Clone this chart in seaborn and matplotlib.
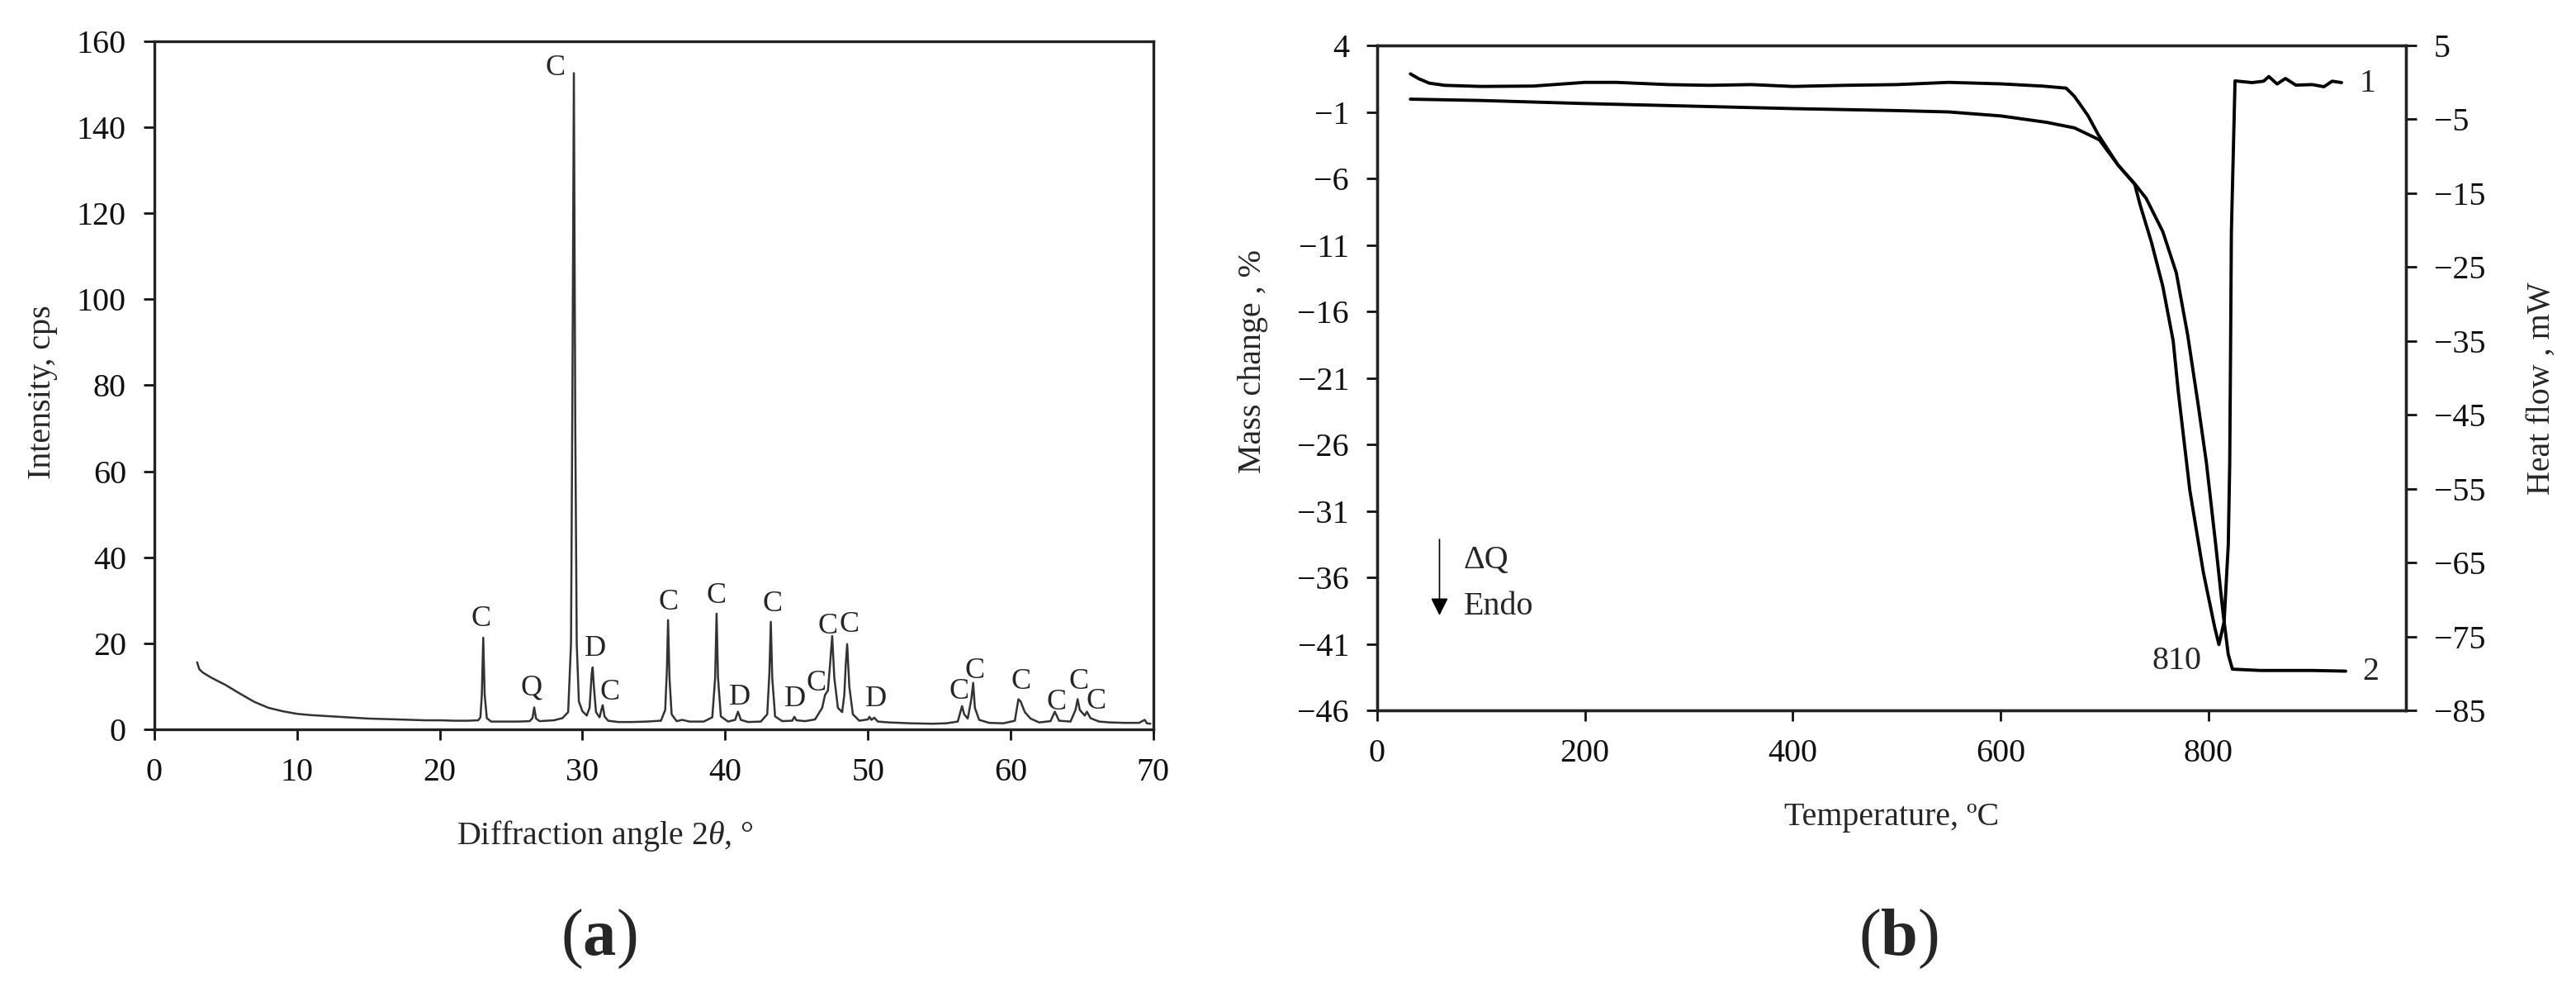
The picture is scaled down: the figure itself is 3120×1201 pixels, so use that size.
import numpy as np
import pandas as pd
import matplotlib
matplotlib.use("Agg")
import matplotlib.pyplot as plt
import seaborn as sns

# (a) XRD pattern
xrd_angle = [3.0, 3.15, 3.4, 4.0, 5.0, 6.0, 7.0, 8.0, 9.0, 10.0, 11.0, 12.0, 13.0, 14.0,
             15.0, 16.0, 17.0, 18.0, 19.0, 20.0, 21.0, 22.0, 22.7,
             22.85, 22.95, 23.05, 23.15, 23.3, 23.6, 24.5, 25.5, 26.3,
             26.5, 26.62, 26.75, 27.0, 28.0, 28.6,
             29.0, 29.2, 29.3, 29.4, 29.5, 29.6, 29.75, 30.0, 30.3,
             30.5, 30.65, 30.72, 30.8, 30.95, 31.2, 31.35, 31.42, 31.55, 31.8,
             32.5, 33.5, 34.5, 35.5, 35.8, 35.92, 36.0, 36.1, 36.25, 36.6, 37.0, 37.5, 38.5,
             39.1, 39.3, 39.4, 39.5, 39.7, 40.2, 40.7, 40.9, 41.1, 41.6, 42.5,
             42.95, 43.1, 43.2, 43.3, 43.5, 44.0, 44.7, 44.85, 45.0, 45.6, 46.3,
             46.8, 47.0, 47.2, 47.35, 47.5, 47.65, 47.9, 48.2, 48.35, 48.45, 48.55, 48.7, 48.95,
             49.4, 50.0, 50.12, 50.25, 50.45, 50.7, 51.5, 53.0, 54.5, 55.5, 56.3,
             56.6, 56.75, 57.0, 57.25, 57.38, 57.5, 57.8, 58.5, 59.5, 60.3,
             60.55, 60.7, 61.0, 61.4, 62.0, 62.8, 63.1, 63.4, 64.2, 64.55, 64.7, 64.85,
             65.2, 65.35, 65.6, 66.2, 67.0, 68.0, 69.0, 69.4, 69.55, 69.8]
xrd_counts = [15.6, 14.0, 13.2, 12.0, 10.3, 8.3, 6.4, 5.0, 4.2, 3.6, 3.3, 3.1, 2.9, 2.7,
              2.5, 2.4, 2.3, 2.2, 2.1, 2.1, 2.0, 2.0, 2.1,
              2.8, 8.0, 21.3, 8.0, 2.6, 1.8, 1.8, 1.8, 1.9,
              2.6, 5.1, 2.5, 1.9, 2.1, 2.6,
              4.0, 20.0, 80.0, 152.6, 70.0, 20.0, 6.5, 4.2, 3.2,
              5.0, 13.0, 14.4, 10.0, 4.0, 2.8, 4.8, 5.6, 3.0, 2.0,
              1.7, 1.7, 1.8, 2.0, 4.5, 14.0, 25.4, 12.0, 3.5, 1.9, 2.2, 1.8, 1.8,
              2.8, 12.0, 26.9, 12.0, 3.0, 1.8, 2.2, 4.1, 2.2, 1.7, 1.8,
              3.5, 13.0, 25.0, 12.0, 3.0, 1.9, 2.0, 2.9, 2.1, 1.9, 2.3,
              5.0, 8.0, 9.0, 15.0, 21.7, 12.0, 5.0, 4.0, 8.0, 15.0, 19.8, 10.0, 3.5,
              2.0, 2.3, 2.9, 2.2, 2.7, 1.8, 1.6, 1.4, 1.3, 1.4, 1.8,
              5.4, 3.5, 2.5, 7.0, 10.8, 5.0, 2.2, 1.5, 1.4, 2.0,
              7.0, 6.5, 4.0, 2.5, 1.6, 1.9, 4.1, 2.0, 1.8, 4.5, 7.0, 4.5,
              3.2, 4.1, 2.6, 1.8, 1.6, 1.5, 1.5, 2.2, 1.4, 1.3]

# phase labels above the peaks: position, height, phase
phase_angle = [22.9, 26.4, 28.1, 30.9, 31.9, 36.0, 39.4, 41.0, 43.3, 44.9, 46.4, 47.2, 48.7,
               50.6, 56.4, 57.5, 60.7, 63.2, 64.8, 66.0]
phase_height = [25.7, 9.6, 153.7, 18.8, 8.5, 29.4, 31.0, 7.4, 29.0, 7.1, 10.7, 24.0, 24.2,
                7.0, 8.7, 13.5, 11.0, 6.3, 11.1, 6.4]
phase_name = ["C", "Q", "C", "D", "C", "C", "C", "D", "C", "D", "C", "C", "C",
              "D", "C", "C", "C", "C", "C", "C"]

# (b) thermal analysis: curve 2 = mass change (TG), curve 1 = heat flow (DSC)
tg_temp = [32, 100, 200, 300, 400, 500, 550, 600, 644, 671, 695, 713, 729, 740, 756,
           769, 780, 790, 798, 807, 814, 819, 823, 850, 900, 932]
tg_mass = [-0.04, -0.14, -0.37, -0.56, -0.75, -0.9, -1.0, -1.3, -1.78, -2.2, -3.1, -5.0,
           -6.4, -7.5, -10.0, -13.1, -17.8, -23.0, -27.4, -33.6, -38.7, -41.8, -42.9,
           -43.0, -43.0, -43.05]
dsc_temp = [32, 40, 50, 65, 100, 150, 200, 230, 280, 320, 360, 400, 450, 500, 550, 600,
            640, 663, 671, 684, 694, 713, 729, 734, 745, 756, 766, 771, 782, 795, 806,
            810, 815, 819, 820.4, 821, 822, 825.5, 842, 853, 858, 866, 874, 884, 900,
            911, 919, 928]
dsc_flow = [1.15, 0.5, -0.1, -0.4, -0.55, -0.5, 0.0, 0.0, -0.3, -0.4, -0.3, -0.55, -0.4,
            -0.3, 0.0, -0.2, -0.5, -0.78, -1.9, -4.5, -7.1, -11.2, -13.8, -16.5, -21.6,
            -27.6, -35.0, -42.0, -55.2, -66.3, -73.8, -76.1, -73.0, -62.6, -51.5, -40.3,
            -20.2, 0.2, -0.03, 0.16, 0.79, -0.22, 0.53, -0.37, -0.3, -0.59, 0.16, -0.03]

xrd = pd.DataFrame({"angle": xrd_angle, "counts": xrd_counts})
tg = pd.DataFrame({"temp": tg_temp, "mass": tg_mass})
dsc = pd.DataFrame({"temp": dsc_temp, "flow": dsc_flow})

sns.set_theme(style="ticks", rc={"axes.linewidth": 1.2, "axes.edgecolor": "#222222"})
plt.rcParams["font.family"] = ["Liberation Serif", "DejaVu Serif"]
plt.rcParams["mathtext.fontset"] = "custom"
plt.rcParams["mathtext.rm"] = "Liberation Serif"
plt.rcParams["mathtext.it"] = "Liberation Serif:italic"
plt.rcParams["mathtext.bf"] = "Liberation Serif:bold"

FS = 14.4
fig = plt.figure(figsize=(15.6, 6.005), dpi=200)
ax1 = fig.add_axes([0.0599, 0.2648, 0.3878, 0.6936])
ax2 = fig.add_axes([0.5346, 0.2839, 0.3994, 0.6703])
ax3 = ax2.twinx()

tick_kw = dict(direction="out", length=4.7, width=1.0, pad=7.5, labelsize=FS, colors="#111111")

# ---- (a) XRD
sns.lineplot(data=xrd, x="angle", y="counts", ax=ax1, color="#333333", linewidth=0.9,
             estimator=None, sort=False)
for a, h, p in zip(phase_angle, phase_height, phase_name):
    ax1.text(a, h, p, ha="center", va="center", fontsize=13)
ax1.set_xlim(0, 70)
ax1.set_ylim(0, 160)
ax1.set_xticks(range(0, 71, 10))
ax1.set_yticks(range(0, 161, 20))
ax1.tick_params(**tick_kw)
ax1.set_xlabel(r"Diffraction angle 2$\mathit{\theta}$, °", fontsize=FS)
ax1.set_ylabel("Intensity, cps", fontsize=FS)
ax1.xaxis.set_label_coords(0.451, -0.155)
ax1.xaxis.label.set_va("center")
ax1.yaxis.set_label_coords(-0.112, 0.49)
ax1.yaxis.label.set_va("center")

# ---- (b) TG / DSC
sns.lineplot(data=tg, x="temp", y="mass", ax=ax2, color="black", linewidth=1.4,
             estimator=None, sort=False)
sns.lineplot(data=dsc, x="temp", y="flow", ax=ax3, color="black", linewidth=1.4,
             estimator=None, sort=False)
ax2.set_xlim(0, 990)
ax2.set_ylim(-46, 4)
ax3.set_ylim(-85, 5)
ax2.set_xticks(range(0, 801, 200))
ax2.set_yticks(range(4, -47, -5))
ax3.set_yticks(range(5, -86, -10))
ax2.tick_params(**tick_kw)
ax3.tick_params(**tick_kw)
ax2.set_xlabel("Temperature, ºC", fontsize=FS)
ax2.set_ylabel("Mass change , %", fontsize=FS)
ax3.set_ylabel("Heat flow , mW", fontsize=FS)
ax2.xaxis.set_label_coords(0.5, -0.161)
ax2.xaxis.label.set_va("center")
ax2.yaxis.set_label_coords(-0.121, 0.525)
ax2.yaxis.label.set_va("center")
ax3.yaxis.set_label_coords(1.132, 0.484)
ax3.yaxis.label.set_va("center")

ax2.text(953, 1.1, "1", ha="center", va="center", fontsize=FS)
ax2.text(956, -43.1, "2", ha="center", va="center", fontsize=FS)
ax2.text(769.5, -42.3, "810", ha="center", va="center", fontsize=FS)
ax2.annotate("", xy=(60, -39.2), xytext=(60, -32.8),
             arrowprops=dict(arrowstyle="-|>", lw=0.6, color="black", mutation_scale=16))
ax2.text(83, -34.7, "ΔQ", ha="left", va="center", fontsize=FS)
ax2.text(83, -38.2, "Endo", ha="left", va="center", fontsize=FS)

fig.text(0.2324, 0.0533, r"($\mathbf{a}$)", ha="center", va="center", fontsize=29)
fig.text(0.737, 0.0533, r"($\mathbf{b}$)", ha="center", va="center", fontsize=29)

fig.savefig("out.png", dpi=200, facecolor="white")
